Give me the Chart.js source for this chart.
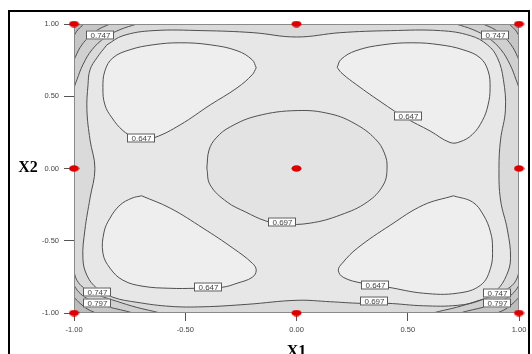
<!DOCTYPE html>
<html>
<head>
<meta charset="utf-8">
<script src="https://cdn.jsdelivr.net/npm/chart.js@4.4.1/dist/chart.umd.min.js"></script>
<style>
  html, body { margin: 0; padding: 0; background: #fff; overflow: hidden; width: 532px; height: 354px; }
  #wrap { position: absolute; left: 0; top: 0; width: 532px; height: 372px; }
  #frame { position: absolute; left: 8px; top: 10px; width: 522px; height: 420px; border: 2px solid #000; box-sizing: border-box; pointer-events: none; }
</style>
</head>
<body>
<div id="wrap"><canvas id="c"></canvas></div>
<div id="frame"></div>
<script>
// Coded factor settings and axis labels
const tickValues = [-1, -0.5, 0, 0.5, 1];
const tickLabels = ['-1.00', '-0.50', '0.00', '0.50', '1.00'];
const xTitle = 'X1';
const yTitle = 'X2';

// Design points (coded units)
const designX = [-1, 0, 1, -1, 0, 1, -1, 0, 1];
const designY = [1, 1, 1, 0, 0, 0, -1, -1, -1];

// Contour 0.697 – ring near the edges of the region
const ring697 = [[-0.852,0.856],[-0.780,0.919],[-0.645,0.954],[-0.420,0.954],[-0.195,0.940],[0.000,0.910],[0.197,0.940],[0.422,0.954],[0.647,0.954],[0.782,0.919],[0.858,0.856],[0.903,0.766],[0.930,0.614],[0.939,0.406],[0.917,0.198],[0.910,0.000],[0.917,-0.218],[0.948,-0.426],[0.962,-0.621],[0.944,-0.739],[0.899,-0.843],[0.827,-0.912],[0.723,-0.947],[0.570,-0.950],[0.408,-0.933],[0.287,-0.933],[0.152,-0.922],[0.003,-0.912],[-0.222,-0.940],[-0.420,-0.957],[-0.568,-0.954],[-0.717,-0.926],[-0.825,-0.891],[-0.897,-0.829],[-0.942,-0.739],[-0.960,-0.621],[-0.951,-0.426],[-0.928,-0.205],[-0.906,0.000],[-0.928,0.198],[-0.942,0.406],[-0.937,0.579],[-0.928,0.683],[-0.897,0.766],[-0.852,0.856]];

// Contour 0.697 – closed loop around the centre point
const centre697 = [[-0.403,0.003],[-0.393,0.128],[-0.361,0.212],[-0.298,0.288],[-0.177,0.364],[0.003,0.401],[0.152,0.378],[0.264,0.309],[0.354,0.205],[0.395,0.107],[0.407,0.003],[0.390,-0.114],[0.318,-0.232],[0.197,-0.322],[0.062,-0.378],[-0.064,-0.385],[-0.140,-0.362],[-0.230,-0.300],[-0.312,-0.232],[-0.388,-0.114],[-0.403,0.003]];

// Contour 0.647 – four low lobes
const lobeTL647 = [[-0.181,0.697],[-0.199,0.752],[-0.267,0.815],[-0.388,0.856],[-0.523,0.870],[-0.645,0.856],[-0.748,0.822],[-0.825,0.766],[-0.861,0.676],[-0.870,0.558],[-0.861,0.440],[-0.829,0.350],[-0.780,0.262],[-0.735,0.222],[-0.690,0.208],[-0.636,0.215],[-0.523,0.302],[-0.388,0.440],[-0.267,0.558],[-0.199,0.649],[-0.181,0.697]];
const lobeTR647 = [[0.183,0.700],[0.200,0.755],[0.267,0.815],[0.388,0.856],[0.523,0.870],[0.645,0.856],[0.748,0.822],[0.825,0.766],[0.861,0.676],[0.870,0.558],[0.861,0.440],[0.835,0.330],[0.790,0.235],[0.735,0.185],[0.690,0.180],[0.600,0.260],[0.490,0.350],[0.380,0.460],[0.252,0.600],[0.200,0.665],[0.183,0.700]];
const lobeBL647 = [[-0.696,-0.189],[-0.568,-0.274],[-0.420,-0.413],[-0.285,-0.552],[-0.199,-0.655],[-0.181,-0.704],[-0.199,-0.753],[-0.267,-0.794],[-0.334,-0.822],[-0.456,-0.829],[-0.568,-0.829],[-0.690,-0.815],[-0.780,-0.773],[-0.838,-0.690],[-0.870,-0.586],[-0.865,-0.440],[-0.838,-0.343],[-0.793,-0.253],[-0.739,-0.205],[-0.696,-0.189]];
const lobeBR647 = [[0.705,-0.189],[0.570,-0.253],[0.422,-0.392],[0.273,-0.552],[0.206,-0.655],[0.188,-0.704],[0.210,-0.753],[0.296,-0.794],[0.413,-0.822],[0.570,-0.863],[0.723,-0.863],[0.827,-0.808],[0.872,-0.690],[0.881,-0.551],[0.872,-0.440],[0.840,-0.322],[0.791,-0.232],[0.705,-0.189]];

// Corner contours 0.747 / 0.797 / 0.847
const cornerTL747 = [[-0.717,1],[-0.793,0.961],[-0.861,0.905],[-0.919,0.822],[-0.960,0.718],[-0.987,0.614],[-1,0.558]];
const cornerTL797 = [[-0.838,1],[-0.892,0.961],[-0.937,0.905],[-0.973,0.836],[-1,0.752]];
const cornerTL847 = [[-0.955,1],[-0.982,0.961],[-1,0.919]];
const cornerTR747 = [[0.717,1],[0.793,0.961],[0.861,0.905],[0.919,0.822],[0.960,0.718],[0.987,0.614],[1,0.558]];
const cornerTR797 = [[0.838,1],[0.892,0.961],[0.937,0.905],[0.973,0.836],[1,0.752]];
const cornerTR847 = [[0.955,1],[0.982,0.961],[1,0.919]];
const cornerBL747 = [[-1,-0.716],[-0.987,-0.773],[-0.959,-0.822],[-0.898,-0.871],[-0.808,-0.919],[-0.718,-0.961],[-0.644,-0.988],[-0.613,-1]];
const cornerBL797 = [[-1,-0.808],[-0.978,-0.856],[-0.943,-0.898],[-0.869,-0.947],[-0.763,-0.988],[-0.735,-1]];
const cornerBL847 = [[-1,-0.891],[-0.973,-0.933],[-0.937,-0.975],[-0.901,-1]];
const cornerBR747 = [[1,-0.716],[0.987,-0.773],[0.959,-0.822],[0.898,-0.871],[0.808,-0.919],[0.718,-0.961],[0.644,-0.988],[0.613,-1]];
const cornerBR797 = [[1,-0.808],[0.978,-0.856],[0.943,-0.898],[0.869,-0.947],[0.763,-0.988],[0.735,-1]];
const cornerBR847 = [[1,-0.891],[0.973,-0.933],[0.937,-0.975],[0.901,-1]];

// Contour labels
const labelText = ['0.747', '0.747', '0.647', '0.647', '0.697', '0.647', '0.647', '0.697', '0.747', '0.797', '0.747', '0.797'];
const labelX = [-0.883, 0.894, -0.699, 0.503, -0.064, -0.397, 0.354, 0.350, -0.897, -0.897, 0.903, 0.903];
const labelY = [0.926, 0.926, 0.212, 0.364, -0.371, -0.822, -0.808, -0.919, -0.856, -0.933, -0.863, -0.933];

// ---------- chart construction ----------
const pts = arr => arr.map(p => ({ x: p[0], y: p[1] }));

const shade = {
  edge: '#dadada',
  inner: '#e7e7e7',
  lobe: '#eeeeee',
  centre: '#e3e3e3',
  c747: '#d0d0d0',
  c797: '#c6c6c6',
  c847: '#bcbcbc'
};

function fillSet(arr, color, order) {
  return { type: 'line', data: pts(arr), fill: 'shape', backgroundColor: color, borderWidth: 0,
           pointRadius: 0, tension: 0.4, order: order };
}
function lineSet(arr) {
  return { type: 'line', data: pts(arr), fill: false, borderColor: '#505050', borderWidth: 1,
           pointRadius: 0, tension: 0.4, order: 10 };
}

const corners = [
  [cornerTL747, cornerTL797, cornerTL847, [-1, 1]],
  [cornerTR747, cornerTR797, cornerTR847, [1, 1]],
  [cornerBL747, cornerBL797, cornerBL847, [-1, -1]],
  [cornerBR747, cornerBR797, cornerBR847, [1, -1]]
];

const datasets = [];
// filled bands (drawn first)
datasets.push(fillSet(ring697, shade.inner, 60));
[lobeTL647, lobeTR647, lobeBL647, lobeBR647].forEach(l => datasets.push(fillSet(l, shade.lobe, 50)));
datasets.push(fillSet(centre697, shade.centre, 50));
corners.forEach(c => {
  datasets.push(fillSet(c[0].concat([c[3]]), shade.c747, 55));
  datasets.push(fillSet(c[1].concat([c[3]]), shade.c797, 54));
  datasets.push(fillSet(c[2].concat([c[3]]), shade.c847, 53));
});
// contour strokes
[ring697, centre697, lobeTL647, lobeTR647, lobeBL647, lobeBR647].forEach(l => datasets.push(lineSet(l)));
corners.forEach(c => { datasets.push(lineSet(c[0])); datasets.push(lineSet(c[1])); datasets.push(lineSet(c[2])); });

// design point marker: a small flattened red ellipse
const marker = document.createElement('canvas');
marker.width = 11; marker.height = 7;
(function () {
  const m = marker.getContext('2d');
  m.fillStyle = '#dd0000';
  m.beginPath();
  m.ellipse(5.5, 3.5, 5, 3.2, 0, 0, Math.PI * 2);
  m.fill();
})();

datasets.push({
  label: 'design',
  type: 'scatter',
  data: designX.map((x, i) => ({ x: x, y: designY[i] })),
  pointStyle: marker,
  pointRadius: 5,
  clip: false,
  order: 0
});

const overlay = {
  id: 'overlay',
  beforeDatasetsDraw(chart) {
    const { ctx, chartArea: a } = chart;
    ctx.save();
    ctx.fillStyle = shade.edge;
    ctx.fillRect(a.left, a.top, a.right - a.left, a.bottom - a.top);
    ctx.restore();
  },
  beforeDatasetDraw(chart, args) {
    if (chart.data.datasets[args.index].label !== 'design') return;
    const { ctx, chartArea: a, scales } = chart;
    ctx.save();
    // plot frame
    ctx.strokeStyle = '#8a8a8a';
    ctx.lineWidth = 1;
    ctx.strokeRect(Math.round(a.left) + 0.5, Math.round(a.top) + 0.5,
                   Math.round(a.right - a.left) - 1, Math.round(a.bottom - a.top) - 1);
    // contour value boxes
    ctx.font = '8px "Liberation Sans", Arial, sans-serif';
    ctx.textAlign = 'center';
    ctx.textBaseline = 'middle';
    labelText.forEach((t, i) => {
      const px = Math.round(scales.x.getPixelForValue(labelX[i]));
      const py = Math.round(scales.y.getPixelForValue(labelY[i]));
      const w = Math.ceil(ctx.measureText(t).width) + 7;
      const h = 9;
      ctx.fillStyle = '#ffffff';
      ctx.fillRect(px - w / 2, py - h / 2, w, h);
      ctx.strokeStyle = '#5a5a5a';
      ctx.strokeRect(px - w / 2 + 0.5, py - h / 2 + 0.5, w - 1, h - 1);
      ctx.fillStyle = '#444';
      ctx.fillText(t, px + 0.5, py + 0.5);
    });
    ctx.restore();
  },
  afterDraw(chart) {
    const { ctx, chartArea: a } = chart;
    ctx.save();
    ctx.fillStyle = '#000';
    ctx.font = 'bold 16px "Liberation Serif", "Times New Roman", serif';
    ctx.textAlign = 'center';
    ctx.textBaseline = 'middle';
    ctx.fillText(yTitle, 28, (a.top + a.bottom) / 2 - 1);
    ctx.textBaseline = 'alphabetic';
    ctx.fillText(xTitle, (a.left + a.right) / 2, 356);
    ctx.restore();
  }
};

const tickFont = { family: '"Liberation Sans", Arial, sans-serif', size: 7.5 };

new Chart(document.getElementById('c'), {
  type: 'line',
  data: { datasets: datasets },
  options: {
    responsive: true,
    maintainAspectRatio: false,
    animation: false,
    events: [],
    layout: { padding: { left: 0, top: 24, right: 13, bottom: 0 } },
    plugins: { legend: { display: false }, tooltip: { enabled: false } },
    scales: {
      x: {
        type: 'linear', min: -1, max: 1,
        afterBuildTicks: s => { s.ticks = tickValues.map(v => ({ value: v })); },
        afterFit: s => { s.height = 59; },
        grid: { drawOnChartArea: false, drawTicks: true, tickLength: 8, tickColor: '#555', lineWidth: 1 },
        border: { display: false },
        ticks: { callback: (v, i) => tickLabels[i], font: tickFont, color: '#444', padding: 4, maxRotation: 0, autoSkip: false }
      },
      y: {
        type: 'linear', min: -1, max: 1,
        afterBuildTicks: s => { s.ticks = tickValues.map(v => ({ value: v })); },
        afterFit: s => { s.width = 74; },
        grid: { drawOnChartArea: false, drawTicks: true, tickLength: 10, tickColor: '#555', lineWidth: 1 },
        border: { display: false },
        ticks: { callback: (v, i) => tickLabels[i], font: tickFont, color: '#444', padding: 5, autoSkip: false }
      }
    }
  },
  plugins: [overlay]
});
</script>
</body>
</html>
